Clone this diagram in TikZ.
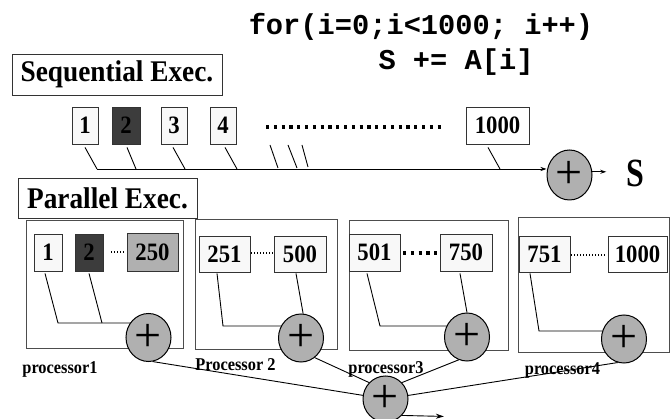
\documentclass[tikz,border=0pt]{standalone}
\usepackage{fontspec}
\setmainfont{Liberation Serif}
\setmonofont{Liberation Mono}
\newfontfamily\tallserif[FakeStretch=0.91]{Liberation Serif}
\newfontfamily\narrowserif[FakeStretch=0.8]{Liberation Serif}
\usetikzlibrary{shapes.geometric,arrows.meta,backgrounds,calc}
\definecolor{boxedge}{HTML}{333333}
\definecolor{lightfill}{HTML}{F8F8F8}
\definecolor{darkfill}{HTML}{3C3C3C}
\definecolor{midgray}{HTML}{B0B0B0}
\definecolor{procedge}{HTML}{4D4D4D}
\begin{document}
\begin{tikzpicture}[x=1pt,y=-1pt,
  cell/.style={draw=boxedge, line width=0.8pt, fill=lightfill, minimum height=37pt,
    inner sep=0pt, font=\fontsize{25}{25}\tallserif\bfseries},
  title/.style={draw=boxedge, line width=0.8pt, fill=white, inner sep=0pt,
    font=\fontsize{30}{30}\tallserif\bfseries},
  proc/.style={draw=procedge, line width=0.9pt, inner sep=0pt},
  adder/.style={ellipse, draw=black, line width=1pt, fill=midgray, minimum width=45pt,
    minimum height=48pt, inner sep=0pt, font=\fontsize{48}{48}\selectfont},
  plabel/.style={font=\fontsize{18}{18}\tallserif\bfseries, inner sep=0pt},
  wire/.style={line width=0.9pt, black},
  thindots/.style={line width=1.2pt, dash pattern=on 1.2pt off 1.8pt},
  thickdots/.style={line width=3.2pt, dash pattern=on 3.2pt off 4.6pt},
  code/.style={font=\fontsize{28.7}{30}\selectfont\ttfamily\bfseries, inner sep=0pt, anchor=base},
  tip/.style={-{Stealth[length=6pt,width=4pt]}},
]
\useasboundingbox (0,0) rectangle (670,419);

% the loop being summed
\node[code] (loop) at (421,35) {for(i=0;i<1000; i++)};
\node[code] (body) at (456,70) {S += A[i]};

% ---------- sequential execution ----------
\node[title, minimum width=210pt, minimum height=41pt] (seqlabel) at (117,74.5) {Sequential Exec.};

\node[cell, minimum width=26pt] (s1) at (85,125.5) {1};
\node[cell, minimum width=28pt, fill=darkfill] (s2) at (126,125.5) {2};
\node[cell, minimum width=26pt] (s3) at (174,125.5) {3};
\node[cell, minimum width=26pt] (s4) at (223,125.5) {4};
\node[cell, minimum width=63pt, fill=white] (s1000) at (497.5,125.5) {1000};
\draw[thickdots] (266,127) -- (443,127);

\node[adder, minimum height=50pt] (sadd) at (569.5,175) {+};
\node[font=\fontsize{40}{40}\narrowserif\bfseries, inner sep=0pt] (sum) at (635,173) {S};

\coordinate (bus0) at (97,169);
\draw[wire] ($(s1.south)+(0,3)$) -- (bus0);
\draw[wire] ($(s2.south)+(1,3)$) -- (136,169);
\draw[wire] ($(s3.south)+(-1,3)$) -- (185,169);
\draw[wire] ($(s4.south)+(2,3)$) -- (237,169);
\draw[wire] (270,145) -- (278,168);
\draw[wire] (288,145) -- (297,168);
\draw[wire] (302,145) -- (308,167);
\draw[wire] ($(s1000.south)+(-9.5,3)$) -- (500,169);
\draw[wire, tip] (bus0) -- (bus0 -| sadd.west);
\draw[wire, tip] (sadd.8) -- ++(14,0);

% ---------- parallel execution ----------
\node[proc, minimum width=157pt, minimum height=128pt] (P1) at (104.5,284) {};
\node[proc, minimum width=142pt, minimum height=130pt] (P2) at (266,284) {};
\node[proc, minimum width=159pt, minimum height=130pt] (P3) at (428.5,285) {};
\node[proc, minimum width=151pt, minimum height=135pt] (P4) at (593.5,284.5) {};
\node[title, minimum width=179pt, minimum height=40pt] (parlabel) at (107.5,198) {Parallel Exec.};

% processor 1 : elements 1..250
\node[cell, minimum width=28pt] (a1) at (48,252.5) {1};
\node[cell, minimum width=28pt, fill=darkfill] (a2) at (89,252.5) {2};
\node[cell, minimum width=51pt, minimum height=38pt, fill=midgray] (a250) at (152.5,252) {250};
\draw[thindots] (111,252) -- (125,252);

% processor 2 : elements 251..500
\node[cell, minimum width=51pt, minimum height=36pt] (b251) at (224.5,254) {251};
\node[cell, minimum width=52pt, minimum height=36pt] (b500) at (300,254) {500};
\draw[thindots] (251,253) -- (273,253);

% processor 3 : elements 501..750
\node[cell, minimum width=51pt] (c501) at (374.5,252.5) {501};
\node[cell, minimum width=52pt] (c750) at (466,252.5) {750};
\draw[thickdots] (403,253) -- (440,253);

% processor 4 : elements 751..1000
\node[cell, minimum width=51pt, minimum height=36pt] (d751) at (544.5,254) {751};
\node[cell, minimum width=59pt, minimum height=36pt, fill=white] (d1000) at (637.5,254) {1000};
\draw[thindots] (571,255) -- (605,255);

% partial sums and the final sum
\node[adder] (add1) at (148.5,337.5) {+};
\node[adder] (add2) at (301,338) {+};
\node[adder] (add3) at (467,337) {+};
\node[adder] (add4) at (624,339) {+};
\node[adder, minimum height=46pt] (total) at (385.5,399) {+};

\node[plabel] (l1) at (60,369) {processor1};
\node[plabel] (l2) at (235.5,365) {Processor 2};
\node[plabel] (l3) at (386,369) {processor3};
\node[plabel] (l4) at (562.5,370) {processor4};

\begin{scope}[on background layer]
  \coordinate (j1) at (58,323);
  \draw[wire] ($(a1.south)+(-3,2)$) -- (j1) -- (j1 -| add1);
  \draw[wire] ($(a2.south)+(0,2)$) -- (102,323);
  \draw[wire] ($(a250.south)+(1.5,0)$) -- ($(a250.south)+(1.5,0)$ |- add1);

  \coordinate (j2) at (223,326);
  \draw[wire] ($(b251.south)+(-7.5,1)$) -- (j2) -- (j2 -| add2);
  \draw[wire] ($(b500.south)+(-4,1)$) -- (add2.85);

  \coordinate (j3) at (380,326);
  \draw[wire] ($(c501.south)+(-7.5,2)$) -- (j3) -- (j3 -| add3);
  \draw[wire] ($(c750.south)+(-6,2)$) -- (add3.90);

  \coordinate (j4) at (539,331);
  \draw[wire] ($(d751.south)+(-14.5,1)$) -- (j4) -- (j4 -| add4);
  \draw[wire] ($(d1000.south)+(-9.5,1)$) -- ($(d1000.south)+(-9.5,1)$ |- add4);
\end{scope}

\draw[wire] (add1.-80) -- (total);
\draw[wire] (add2.-55) -- (total.135);
\draw[wire] (add3.250) -- (total.45);
\draw[wire] (add4.255) -- (total);
\draw[wire, -{Stealth[length=8pt,width=5pt]}] (total.-45) -- ++(42,1);
\end{tikzpicture}
\end{document}
